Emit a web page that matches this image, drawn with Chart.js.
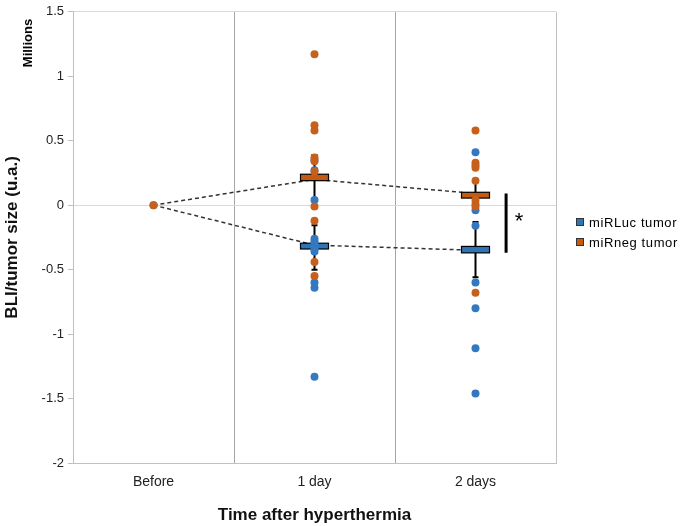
<!DOCTYPE html>
<html>
<head>
<meta charset="utf-8">
<script src="https://cdn.jsdelivr.net/npm/chart.js@4.4.0/dist/chart.umd.min.js"></script>
<style>
  html, body { margin: 0; padding: 0; background: #fff; }
  #wrap { width: 685px; height: 526px; }
</style>
</head>
<body>
<div id="wrap"><canvas id="chart"></canvas></div>
<script>
const categories = ['Before', '1 day', '2 days'];
const seriesNames = ['miRLuc tumor', 'miRneg tumor'];

// single tumors, in millions (x index: 0 = Before, 1 = 1 day, 2 = 2 days)
const lucBefore = [0];
const lucDay1 = [0.35, 0.27, 0.04, -0.26, -0.28, -0.30, -0.32, -0.34, -0.36, -0.60, -0.64, -1.33];
const lucDay2 = [0.41, -0.04, -0.16, -0.60, -0.80, -1.11, -1.46];
const negBefore = [0];
const negDay1 = [1.17, 0.62, 0.58, 0.37, 0.34, 0.26, -0.01, -0.12, -0.44, -0.55];
const negDay2 = [0.58, 0.33, 0.31, 0.29, 0.19, 0.04, 0.01, -0.01, -0.68];

// mean lines
const lucMean = [0, -0.31, -0.35];
const negMean = [0, 0.20, 0.09];

// box + whiskers for 1 day and 2 days
const lucQ1 = [null, -0.34, -0.37];
const lucQ3 = [null, -0.295, -0.32];
const lucLow = [null, -0.50, -0.56];
const lucHigh = [null, -0.155, -0.13];
const negQ1 = [null, 0.19, 0.055];
const negQ3 = [null, 0.24, 0.10];
const negLow = [null, 0.05, 0.0];
const negHigh = [null, 0.39, 0.19];

// significance bar between the two groups at 2 days
const sigBar = [0.09, -0.37];

const blue = '#3479bf';
const orange = '#c7601c';
const blueBox = '#2e75b6';
const orangeBox = '#c55a11';

function toPoints(vals, idx) {
  return vals.map(v => ({ x: idx + 0.5, y: v }));
}

const lucPoints = [].concat(toPoints(lucBefore, 0), toPoints(lucDay1, 1), toPoints(lucDay2, 2));
const negPoints = [].concat(toPoints(negBefore, 0), toPoints(negDay1, 1), toPoints(negDay2, 2));

const boxPlugin = {
  id: 'boxes',
  afterDatasetDraw(chart, args) {
    if (args.index !== 2) return;
    const ctx = chart.ctx;
    const xs = chart.scales.x, ys = chart.scales.y;
    const groups = [
      { q1: lucQ1, q3: lucQ3, lo: lucLow, hi: lucHigh, fill: blueBox },
      { q1: negQ1, q3: negQ3, lo: negLow, hi: negHigh, fill: orangeBox }
    ];
    ctx.save();
    groups.forEach(g => {
      for (let i = 0; i < categories.length; i++) {
        if (g.q1[i] == null) continue;
        const cx = xs.getPixelForValue(i + 0.5);
        const top = ys.getPixelForValue(g.q3[i]);
        const bot = ys.getPixelForValue(g.q1[i]);
        const hi = ys.getPixelForValue(g.hi[i]);
        const lo = ys.getPixelForValue(g.lo[i]);
        ctx.strokeStyle = '#000';
        ctx.lineWidth = 2;
        ctx.beginPath();
        ctx.moveTo(cx, top); ctx.lineTo(cx, hi);
        ctx.moveTo(cx - 3, hi); ctx.lineTo(cx + 3, hi);
        ctx.moveTo(cx, bot); ctx.lineTo(cx, lo);
        ctx.moveTo(cx - 3, lo); ctx.lineTo(cx + 3, lo);
        ctx.stroke();
        ctx.fillStyle = g.fill;
        ctx.fillRect(cx - 14, top, 28, bot - top);
        ctx.lineWidth = 1.2;
        ctx.strokeRect(cx - 14, top, 28, bot - top);
      }
    });
    ctx.restore();
  },
  afterDraw(chart) {
    const ctx = chart.ctx;
    const xs = chart.scales.x, ys = chart.scales.y;
    ctx.save();
    // asterisk
    ctx.fillStyle = '#000';
    ctx.font = '22px Arial';
    ctx.textAlign = 'center';
    ctx.textBaseline = 'middle';
    ctx.fillText('*', xs.getPixelForValue(2.77), ys.getPixelForValue(-0.13));
    // "Millions"
    ctx.save();
    ctx.translate(28, 43);
    ctx.rotate(-Math.PI / 2);
    ctx.font = 'bold 13px Arial';
    ctx.fillText('Millions', 0, 0);
    ctx.restore();
    // legend
    const fills = [blueBox, orangeBox];
    ctx.font = '13px Arial';
    ctx.letterSpacing = '0.6px';
    ctx.textAlign = 'left';
    seriesNames.forEach((name, i) => {
      const y = 222 + i * 20;
      ctx.fillStyle = fills[i];
      ctx.fillRect(576, y - 4, 8, 8);
      ctx.strokeStyle = '#333';
      ctx.lineWidth = 1;
      ctx.strokeRect(576.5, y - 3.5, 7, 7);
      ctx.fillStyle = '#000';
      ctx.fillText(name, 589, y + 1);
    });
    ctx.restore();
  }
};

new Chart(document.getElementById('chart'), {
  type: 'scatter',
  data: {
    datasets: [
      { label: seriesNames[1], data: negPoints, backgroundColor: orange, borderWidth: 0, pointRadius: 4 },
      { label: seriesNames[0], data: lucPoints, backgroundColor: blue, borderWidth: 0, pointRadius: 4 },
      { type: 'line', data: negMean.map((v, i) => ({ x: i + 0.5, y: v })), borderColor: '#333', borderWidth: 1.5, borderDash: [4, 3], pointRadius: 0, fill: false },
      { type: 'line', data: lucMean.map((v, i) => ({ x: i + 0.5, y: v })), borderColor: '#333', borderWidth: 1.5, borderDash: [4, 3], pointRadius: 0, fill: false },
      { type: 'line', data: sigBar.map(v => ({ x: 2.69, y: v })), borderColor: '#000', borderWidth: 3, pointRadius: 0, fill: false }
    ]
  },
  options: {
    responsive: true,
    maintainAspectRatio: false,
    animation: false,
    layout: { padding: { top: 10, right: 129, left: 0, bottom: 0 } },
    plugins: { legend: { display: false }, tooltip: { enabled: false } },
    scales: {
      x: {
        type: 'linear', min: 0, max: 3,
        afterBuildTicks: s => { s.ticks = [0, 0.5, 1, 1.5, 2, 2.5, 3].map(v => ({ value: v })); },
        afterFit: s => { s.height = 63; },
        border: { display: true, color: '#c0c0c0', width: 1 },
        grid: {
          color: c => (c.tick && Number.isInteger(c.tick.value)) ? (c.tick.value === 1 || c.tick.value === 2 ? '#a6a6a6' : '#c0c0c0') : 'rgba(0,0,0,0)',
          drawTicks: false
        },
        ticks: {
          autoSkip: false, maxRotation: 0, padding: 11,
          color: '#222', font: { family: 'Arial', size: 14 },
          callback: v => Number.isInteger(v) ? '' : categories[Math.floor(v)]
        },
        title: { display: true, text: 'Time after hyperthermia', color: '#111', font: { family: 'Arial', size: 17, weight: 'bold' }, padding: { top: 4, bottom: 0 } }
      },
      y: {
        min: -2, max: 1.5,
        afterFit: s => { s.width = 73; },
        border: { display: true, color: '#c0c0c0', width: 1 },
        grid: {
          color: c => (c.tick && (c.tick.value === 0 || c.tick.value === 1.5)) ? '#d9d9d9' : 'rgba(0,0,0,0)',
          tickColor: '#bfbfbf', tickLength: 5, drawTicks: true
        },
        ticks: { stepSize: 0.5, padding: 4, color: '#222', font: { family: 'Arial', size: 13 }, callback: v => String(v) },
        title: { display: true, text: 'BLI/tumor size (u.a.)', color: '#111', font: { family: 'Arial', size: 17, weight: 'bold' }, padding: { top: 2, bottom: 0 } }
      }
    }
  },
  plugins: [boxPlugin]
});
</script>
</body>
</html>
